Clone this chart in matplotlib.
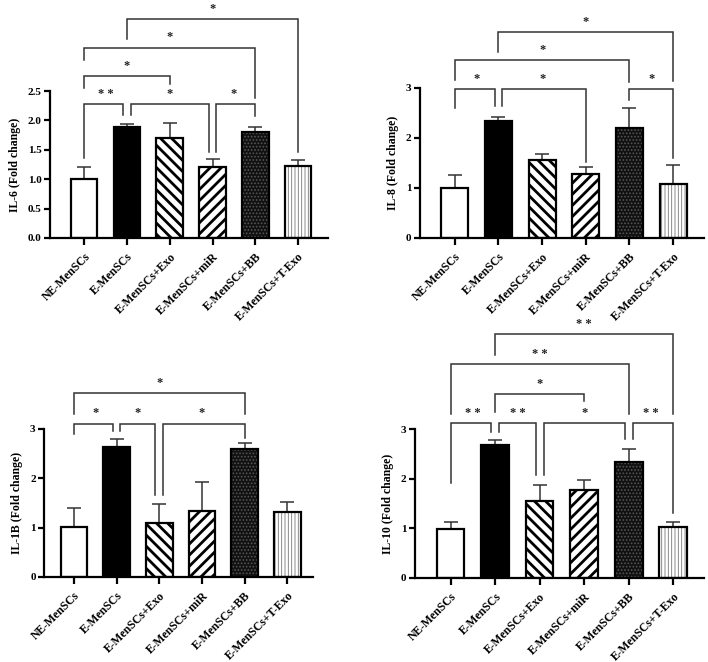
import matplotlib
matplotlib.use("Agg")
import numpy as np
import matplotlib.pyplot as plt

plt.rcParams["font.family"] = ["Liberation Serif", "DejaVu Serif"]
plt.rcParams["font.weight"] = "bold"

groups = ["NE-MenSCs", "E-MenSCs", "E-MenSCs+Exo", "E-MenSCs+miR", "E-MenSCs+BB", "E-MenSCs+T-Exo"]

il6_mean = [1.00, 1.88, 1.70, 1.21, 1.81, 1.23]
il6_sem = [0.20, 0.06, 0.26, 0.13, 0.07, 0.10]
il8_mean = [1.00, 2.34, 1.56, 1.28, 2.19, 1.08]
il8_sem = [0.25, 0.07, 0.11, 0.14, 0.41, 0.37]
il1b_mean = [1.01, 2.64, 1.10, 1.34, 2.59, 1.32]
il1b_sem = [0.39, 0.16, 0.38, 0.58, 0.12, 0.21]
il10_mean = [0.99, 2.68, 1.55, 1.77, 2.33, 1.03]
il10_sem = [0.13, 0.09, 0.32, 0.21, 0.27, 0.10]

# significance brackets: (group a, group b, bracket height, leg end a, leg end b, label)
il6_sig = [(0, 1, 2.28, 1.36, 2.10, "* *"), (1, 3, 2.28, 2.10, 1.47, "*"), (3, 4, 2.28, 1.47, 2.07, "*"),
           (0, 2, 2.76, 2.55, 2.62, "*"), (0, 4, 3.24, 3.02, 2.38, "*"), (1, 5, 3.73, 3.39, 1.47, "*")]
il8_sig = [(0, 1, 2.98, 2.60, 2.63, "*"), (1, 3, 2.98, 2.63, 1.52, "*"), (4, 5, 2.98, 2.75, 1.59, "*"),
           (0, 4, 3.56, 3.16, 3.11, "*"), (1, 5, 4.12, 3.71, 3.14, "*")]
il1b_sig = [(0, 1, 3.11, 2.89, 2.96, "*"), (1, 2, 3.11, 2.96, 1.66, "*"), (2, 4, 3.11, 1.66, 2.82, "*"),
            (0, 4, 3.72, 3.31, 3.31, "*")]
il10_sig = [(0, 1, 3.12, 1.92, 2.94, "* *"), (1, 2, 3.12, 2.94, 2.07, "* *"), (2, 4, 3.12, 2.07, 2.80, "*"),
            (4, 5, 3.12, 2.80, 1.31, "* *"), (1, 3, 3.70, 3.35, 3.56, "*"), (0, 4, 4.30, 3.31, 3.31, "* *"),
            (1, 5, 4.91, 4.50, 3.31, "* *")]

# bar looks: face, hatch, hatch colour, hatch width
styles = [("white", "", "black", 1.0),
          ("black", "", "black", 1.0),
          ("white", "\\\\\\", "black", 2.0),
          ("white", "///", "black", 2.0),
          ("#111111", ".....", "#555555", 0.8),
          ("white", "|||||", "#777777", 0.6)]


def panel(rect, mean, sem, sig, ylabel, yticks, ytl, xlim):
    ax = fig.add_axes(rect)
    x = np.arange(len(groups))
    ax.errorbar(x, mean, yerr=[np.zeros(len(sem)), sem], fmt="none", ecolor="#333333",
                elinewidth=1.1, capsize=5, capthick=1.1, zorder=1)
    for xi, m, (fc, h, hc, hw) in zip(x, mean, styles):
        b = ax.bar(xi, m, width=0.62, color=fc, edgecolor=hc, hatch=h, linewidth=0, zorder=2)[0]
        if hasattr(b, "set_hatch_linewidth"):
            b.set_hatch_linewidth(hw)
        ax.bar(xi, m, width=0.62, fill=False, edgecolor="black", linewidth=1.6, zorder=3)
    levels = {}
    for a, c, y, la, lc, txt in sig:
        levels.setdefault(y, []).append((a, c))
    for a, c, y, la, lc, txt in sig:
        same = levels[y]
        xa = a + (0.09 if any(p[1] == a for p in same) else 0)
        xc = c - (0.09 if any(p[0] == c for p in same) else 0)
        ax.plot([xa, xa, xc, xc], [la, y, y, lc], color="#333333", lw=1.1, clip_on=False,
                solid_joinstyle="miter")
        ax.annotate(txt, ((a + c) / 2, y), xytext=(0, 3), textcoords="offset points",
                    ha="center", va="bottom", fontsize=9, annotation_clip=False, color="#222222")
    ax.set_xlim(*xlim)
    ax.set_ylim(yticks[0], yticks[-1])
    ax.set_yticks(yticks)
    ax.set_yticklabels(ytl, fontsize=8, fontweight="bold")
    ax.set_xticks(x)
    ax.set_xticklabels(groups, rotation=45, ha="right", rotation_mode="anchor",
                       fontsize=8.5, fontweight="bold")
    ax.set_ylabel(ylabel, fontsize=8.5, fontweight="bold", labelpad=5)
    for s in ["top", "right"]:
        ax.spines[s].set_visible(False)
    for s in ["left", "bottom"]:
        ax.spines[s].set_linewidth(1.6)
    ax.tick_params(axis="both", width=1.6, length=4, pad=2)
    ax.tick_params(axis="x", length=5, pad=4)
    return ax


fig = plt.figure(figsize=(7.08, 6.62), dpi=100)
panel([0.0706, 0.6405, 0.3927, 0.222], il6_mean, il6_sem, il6_sig, "IL-6 (Fold change)",
      [0, 0.5, 1.0, 1.5, 2.0, 2.5], ["0.0", "0.5", "1.0", "1.5", "2.0", "2.5"], (-0.8, 5.7))
panel([0.593, 0.6405, 0.401, 0.2266], il8_mean, il8_sem, il8_sig, "IL-8 (Fold change)",
      [0, 1, 2, 3], ["0", "1", "2", "3"], (-0.8, 5.7))
panel([0.0621, 0.1284, 0.380, 0.2236], il1b_mean, il1b_sem, il1b_sig, "IL-1B (Fold change)",
      [0, 1, 2, 3], ["0", "1", "2", "3"], (-0.7, 5.6))
panel([0.586, 0.1269, 0.409, 0.225], il10_mean, il10_sem, il10_sig, "IL-10 (Fold change)",
      [0, 1, 2, 3], ["0", "1", "2", "3"], (-0.8, 5.7))

fig.savefig("out.png", dpi=100)
